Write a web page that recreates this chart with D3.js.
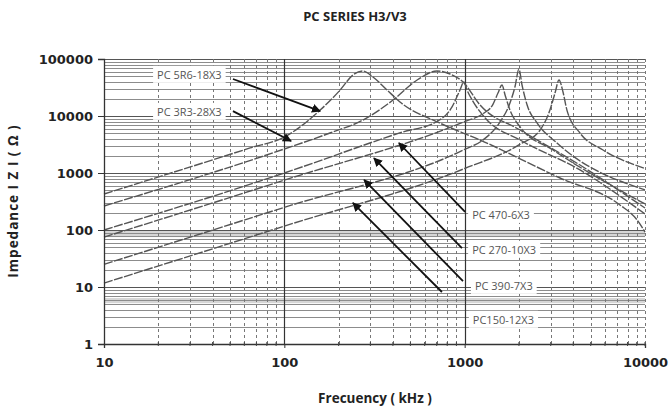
<!DOCTYPE html>
<html><head><meta charset="utf-8">
<script src="https://cdn.jsdelivr.net/npm/d3@7"></script>
<style>body{margin:0;background:#fff}svg{display:block}</style>
</head><body>
<svg id="c" width="670" height="411"></svg>
<script>
// ---- data ----
const freqTicks = [10, 100, 1000, 10000];
const impTicks = [1, 10, 100, 1000, 10000, 100000];
const seriesNames = ["PC 5R6-18X3", "PC 3R3-28X3", "PC 470-6X3", "PC 270-10X3", "PC 390-7X3", "PC150-12X3"];
const s5R6 = [[10,428],[64.6,2750],[100,4280],[158,12700],[204,28600],[240,52400],[273,61500],[310,48300],[371,28600],[438,17600],[726,7540],[1217,3790],[3380,817],[7260,275],[9040,150],[10000,92]];
const s3R3 = [[10,264],[100,2640],[179,5030],[273,8500],[401,19100],[545,42800],[703,61500],[830,54600],[980,39500],[1217,15600],[2030,5680],[4360,1380],[10000,243]];
const s470 = [[10,100],[100,1000],[432,5000],[726,8500],[851,14400],[942,28600],[990,39500],[1030,28600],[1100,19100],[1300,9200],[2030,3790],[4360,1130],[10000,191]];
const s270 = [[10,75],[100,750],[1000,8000],[1265,11000],[1435,16000],[1530,25300],[1610,35000],[1675,23400],[1783,12700],[2030,6410],[3090,2530],[10000,286]];
const s390 = [[10,25],[100,250],[1000,2600],[1265,3800],[1570,7850],[1783,16900],[1900,32300],[2000,66800],[2080,35000],[2220,15600],[2520,7540],[3250,3360],[10000,504]];
const s150 = [[10,11.7],[100,117],[1000,1200],[2030,3200],[2620,5680],[2970,12700],[3170,25300],[3335,42800],[3510,26400],[3690,12700],[4360,5030],[5850,2530],[10000,1200]];
const seriesValues = [s5R6, s3R3, s470, s270, s390, s150];
// annotation anchors (kHz, ohm)
const labelPos  = [[19.7,52400],[19.7,11750],[1100,183],[1100,44.6],[1140,10.4],[1110,2.64]];
const arrowFrom = [[51.9,44600],[51.9,12200],[1005,207],[966,48.3],[979,12.7],[748,8.17]];
const arrowTo   = [[158,12200],[109,3640],[432,3360],[314,1830],[277,754],[240,298]];
const shadeBands = [[75,100],[5.2,6.4]];

// ---- chart ----
const svg = d3.select('#c');
const x = d3.scaleLog().domain([10,10000]).range([104,645]);
const y = d3.scaleLog().domain([1,100000]).range([344,59]);
const X0 = x(10), X1 = x(10000), Y0 = y(1), Y1 = y(100000);

svg.append('g').selectAll('rect').data(shadeBands).join('rect')
  .attr('x', X0).attr('width', X1 - X0)
  .attr('y', d => y(d[1])).attr('height', d => y(d[0]) - y(d[1]))
  .attr('fill', '#d6d6d6');

const yMinor = [];
for (let n = 0; n < 5; n++) for (let k = 1; k <= 9; k++) yMinor.push(k * Math.pow(10, n));
yMinor.push(100000);
svg.append('g').selectAll('line').data(yMinor).join('line')
  .attr('x1', X0).attr('x2', X1)
  .attr('y1', d => Math.round(y(d)) + 0.5).attr('y2', d => Math.round(y(d)) + 0.5)
  .attr('stroke', d => impTicks.includes(d) ? '#555' : '#8c8c8c').attr('stroke-width', 1.2);

const xMinor = [];
for (let n = 1; n < 4; n++) for (let k = 2; k <= 9; k++) xMinor.push(k * Math.pow(10, n));
xMinor.push(10000);
svg.append('g').selectAll('line').data(xMinor).join('line')
  .attr('x1', d => Math.round(x(d)) + 0.5).attr('x2', d => Math.round(x(d)) + 0.5)
  .attr('y1', Y1).attr('y2', Y0)
  .attr('stroke', '#777').attr('stroke-width', 1).attr('stroke-dasharray', '3,3');
svg.append('g').selectAll('line').data([100, 1000]).join('line')
  .attr('x1', d => Math.round(x(d)) + 0.5).attr('x2', d => Math.round(x(d)) + 0.5)
  .attr('y1', Y1).attr('y2', Y0)
  .attr('stroke', '#333').attr('stroke-width', 1.2);

// curves
const line = d3.line().x(d => x(d[0])).y(d => y(d[1])).curve(d3.curveMonotoneX);
svg.append('g').selectAll('path').data(seriesValues).join('path')
  .attr('d', line).attr('fill', 'none')
  .attr('stroke', '#555').attr('stroke-width', 1.4).attr('stroke-dasharray', '9,1.5');

// axes
const ax = svg.append('g').attr('transform', `translate(${X0},0)`)
  .call(d3.axisLeft(y).tickValues(impTicks).tickFormat(d3.format('d')).tickSize(6).tickPadding(5));
ax.select('.domain').attr('stroke', '#333').attr('stroke-width', 1.3);
ax.selectAll('.tick line').attr('stroke', '#333');
ax.selectAll('text').attr('font-family', 'DejaVu Sans').attr('font-weight', 'bold').attr('font-size', 13).attr('fill', '#222');

const bx = svg.append('g').attr('transform', `translate(0,${Y0})`)
  .call(d3.axisBottom(x).tickValues(freqTicks).tickFormat(d3.format('d')).tickSize(4).tickPadding(10));
bx.select('.domain').attr('stroke', '#333').attr('stroke-width', 1.3);
bx.selectAll('.tick line').attr('stroke', '#333');
bx.selectAll('text').attr('font-family', 'DejaVu Sans').attr('font-weight', 'bold').attr('font-size', 13).attr('fill', '#222');
svg.append('g').selectAll('line').data(xMinor).join('line')
  .attr('x1', d => x(d)).attr('x2', d => x(d)).attr('y1', Y0 - 2).attr('y2', Y0 + 2)
  .attr('stroke', '#444');

// titles
svg.append('text').attr('x', 355).attr('y', 21).attr('text-anchor', 'middle')
  .attr('font-family', 'Open Sans').attr('font-weight', 'bold').attr('font-size', 13).attr('fill', '#222')
  .text('PC SERIES H3/V3');
svg.append('text').attr('x', 375).attr('y', 403).attr('text-anchor', 'middle')
  .attr('font-family', 'Open Sans').attr('font-weight', 'bold').attr('font-size', 13.5).attr('fill', '#222')
  .text('Frecuency ( kHz )');
svg.append('text').attr('transform', 'translate(18,201) rotate(-90)').attr('text-anchor', 'middle')
  .attr('font-family', 'Open Sans').attr('font-weight', 'bold').attr('font-size', 13.5)
  .attr('letter-spacing', 1).attr('fill', '#222')
  .text('Impedance I Z I ( Ω )');

// annotations
const defs = svg.append('defs');
defs.append('marker').attr('id', 'ah').attr('viewBox', '0 0 10 10').attr('refX', 9).attr('refY', 5)
  .attr('markerWidth', 5).attr('markerHeight', 5).attr('orient', 'auto')
  .append('path').attr('d', 'M0,0L10,5L0,10z').attr('fill', '#111');

const ann = svg.append('g');
seriesNames.forEach((name, i) => {
  const g = ann.append('g');
  const t = g.append('text').attr('x', x(labelPos[i][0])).attr('y', y(labelPos[i][1])).attr('dy', '0.35em')
    .attr('font-family', 'Open Sans').attr('font-size', 11).attr('fill', '#555').text(name);
  const bb = t.node().getBBox();
  g.insert('rect', 'text').attr('x', bb.x - 4).attr('y', bb.y - 1).attr('width', bb.width + 8).attr('height', bb.height + 2)
    .attr('fill', '#fff');
  ann.append('line')
    .attr('x1', x(arrowFrom[i][0])).attr('y1', y(arrowFrom[i][1]))
    .attr('x2', x(arrowTo[i][0])).attr('y2', y(arrowTo[i][1]))
    .attr('stroke', '#111').attr('stroke-width', 1.8).attr('marker-end', 'url(#ah)');
});
</script>
</body></html>
